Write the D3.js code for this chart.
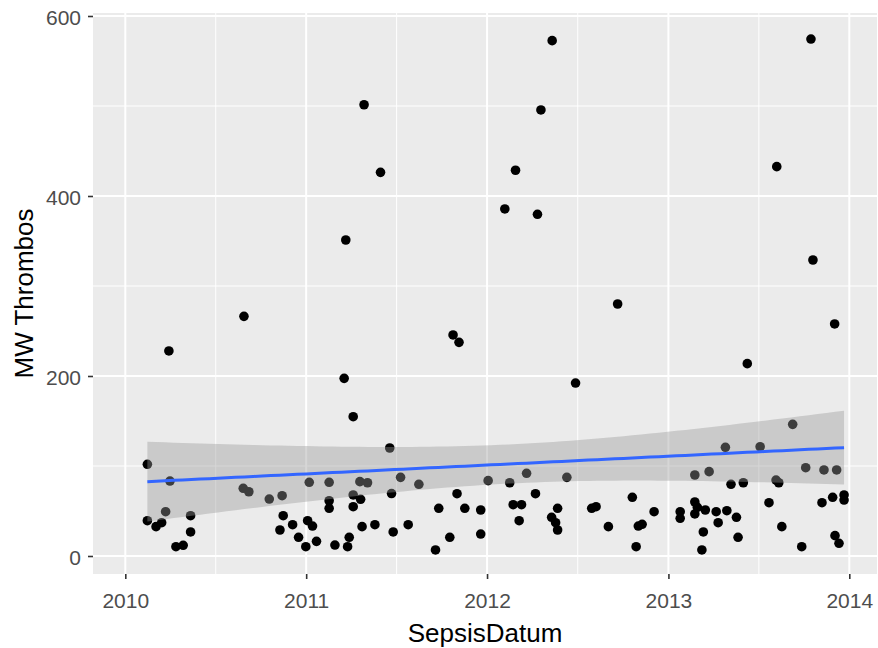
<!DOCTYPE html>
<html>
<head>
<meta charset="utf-8">
<script src="https://cdn.jsdelivr.net/npm/d3@7"></script>
<style>
  body { margin: 0; background: #fff; }
  text { font-family: "Liberation Sans", Arial, sans-serif; }
</style>
</head>
<body>
<div id="viz-container"></div>
<script>
// SepsisDatum as decimal years
let sepsisYear = [
  2010.122, 2010.247, 2010.223, 2010.122, 2010.170, 2010.201, 2010.361, 2010.361, 2010.280, 2010.320,
  2010.652, 2010.683, 2010.796, 2010.867, 2010.873, 2010.855, 2010.925, 2010.958, 2011.008, 2011.035,
  2010.998, 2011.057, 2011.017, 2011.127, 2011.127, 2011.127, 2011.159, 2011.260, 2011.297, 2011.339,
  2011.301, 2011.260, 2011.238, 2011.229, 2011.309, 2011.380, 2011.462, 2011.472, 2011.260, 2011.522,
  2011.623, 2011.481, 2011.564, 2011.733, 2011.834, 2011.877, 2011.965, 2011.965, 2011.794, 2011.715,
  2012.006, 2012.125, 2012.218, 2012.144, 2012.190, 2012.267, 2012.177, 2012.389, 2012.356, 2012.378,
  2012.389, 2012.440, 2012.577, 2012.601, 2012.669, 2012.801, 2012.822, 2012.834, 2012.855, 2012.921,
  2013.065, 2013.065, 2013.146, 2013.225, 2013.315, 2013.146, 2013.160, 2013.146, 2013.204, 2013.193,
  2013.185, 2013.264, 2013.275, 2013.323, 2013.376, 2013.385, 2013.346, 2013.414, 2013.507, 2013.687,
  2013.556, 2013.595, 2013.610, 2013.627, 2013.737, 2013.759, 2013.860, 2013.930, 2013.849, 2013.908,
  2013.971, 2013.971, 2013.921, 2013.943,
  2012.359, 2011.320, 2012.297, 2011.411, 2012.157, 2012.098, 2012.278, 2013.788, 2013.599, 2010.241,
  2010.656, 2011.219, 2011.812, 2011.845, 2011.210, 2012.488, 2012.720, 2013.799, 2013.919, 2013.436
];

let mwThrombos = [
  101.9, 83.3, 49.2, 39.2, 32.6, 37.0, 44.8, 26.7, 10.3, 11.9,
  75.2, 71.4, 63.3, 67.0, 44.8, 28.9, 34.8, 20.8, 39.2, 33.3,
  10.3, 16.3, 81.9, 81.9, 61.4, 53.0, 12.2, 67.8, 82.6, 81.4,
  63.0, 54.8, 20.8, 10.3, 32.6, 34.8, 120.0, 69.4, 154.8, 87.4,
  79.7, 26.7, 34.8, 53.0, 69.2, 53.0, 51.1, 24.4, 20.8, 6.7,
  83.7, 81.4, 91.9, 57.0, 57.0, 69.2, 39.2, 53.0, 43.0, 37.0,
  28.9, 87.4, 53.0, 54.8, 32.6, 65.2, 10.3, 33.3, 35.2, 49.2,
  49.2, 41.9, 90.0, 93.7, 120.8, 60.0, 54.1, 46.7, 51.1, 26.7,
  6.7, 49.2, 37.0, 50.3, 43.0, 20.8, 79.7, 81.4, 121.4, 146.3,
  59.2, 84.4, 81.4, 32.6, 10.3, 98.1, 95.6, 95.6, 59.2, 65.2,
  67.8, 62.2, 22.6, 14.1,
  572.6, 501.4, 495.6, 426.3, 428.6, 385.6, 379.7, 574.4, 432.6, 227.8,
  266.3, 351.1, 245.6, 237.4, 197.4, 192.2, 280.0, 328.9, 257.8, 213.7
];

let xTickYears = [2010, 2011, 2012, 2013, 2014];
let yTicks = [0, 200, 400, 600];
let yMinor = [100, 300, 500];

let width = 878, height = 648;
let panel = {left: 93, right: 877, top: 13, bottom: 574};

function toDate(dy){
  let y = Math.floor(dy);
  let start = Date.UTC(y, 0, 1), end = Date.UTC(y + 1, 0, 1);
  return new Date(start + (dy - y) * (end - start));
}

let data = sepsisYear.map(function(d, i){
  return {date: toDate(d), value: mwThrombos[i]};
});

let x = d3.scaleUtc()
  .domain([new Date(Date.UTC(2010, 0, 1)), new Date(Date.UTC(2014, 0, 1))])
  .range([125.3, 849.3]);
let y = d3.scaleLinear().domain([0, 600]).range([556, 16]);

let viz = d3.select("#viz-container")
  .append("svg")
    .attr("width", width)
    .attr("height", height);

// panel
viz.append("rect")
  .attr("x", panel.left).attr("y", panel.top)
  .attr("width", panel.right - panel.left)
  .attr("height", panel.bottom - panel.top)
  .attr("fill", "#EBEBEB");

let xMajor = xTickYears.map(function(yr){ return new Date(Date.UTC(yr, 0, 1)); });
let xMinor = [];
for (let i = 0; i < xMajor.length - 1; i++) {
  xMinor.push(new Date((+xMajor[i] + +xMajor[i + 1]) / 2));
}

let grid = viz.append("g");
grid.selectAll(".ymin").data(yMinor).enter().append("line")
  .attr("x1", panel.left).attr("x2", panel.right)
  .attr("y1", y).attr("y2", y)
  .attr("stroke", "#fff").attr("stroke-width", 1);
grid.selectAll(".xmin").data(xMinor).enter().append("line")
  .attr("y1", panel.top).attr("y2", panel.bottom)
  .attr("x1", x).attr("x2", x)
  .attr("stroke", "#fff").attr("stroke-width", 1);
grid.selectAll(".ymaj").data(yTicks).enter().append("line")
  .attr("x1", panel.left).attr("x2", panel.right)
  .attr("y1", y).attr("y2", y)
  .attr("stroke", "#fff").attr("stroke-width", 2);
grid.selectAll(".xmaj").data(xMajor).enter().append("line")
  .attr("y1", panel.top).attr("y2", panel.bottom)
  .attr("x1", x).attr("x2", x)
  .attr("stroke", "#fff").attr("stroke-width", 2);

// points
viz.append("g").selectAll("circle").data(data).enter()
  .append("circle")
    .attr("cx", function(d){ return x(d.date); })
    .attr("cy", function(d){ return y(d.value); })
    .attr("r", 4.8)
    .attr("fill", "#000");

// linear fit with 95% band (geom_smooth method = "lm")
let xs = data.map(function(d){ return +d.date / 86400000; });
let ys = data.map(function(d){ return d.value; });
let n = xs.length;
let mx = d3.mean(xs), my = d3.mean(ys);
let sxx = d3.sum(xs, function(v){ return (v - mx) * (v - mx); });
let sxy = d3.sum(xs, function(v, i){ return (v - mx) * (ys[i] - my); });
let slope = sxy / sxx;
let icpt = my - slope * mx;
let sse = d3.sum(xs, function(v, i){ let r = ys[i] - (icpt + slope * v); return r * r; });
let sigma = Math.sqrt(sse / (n - 2));
let tq = 1.9796;
let xmin = d3.min(xs), xmax = d3.max(xs);
let fit = d3.range(80).map(function(k){
  let xv = xmin + (xmax - xmin) * k / 79;
  let yv = icpt + slope * xv;
  let se = sigma * Math.sqrt(1 / n + (xv - mx) * (xv - mx) / sxx);
  return {date: new Date(xv * 86400000), y: yv, lo: yv - tq * se, hi: yv + tq * se};
});

viz.append("path")
  .datum(fit)
  .attr("d", d3.area()
    .x(function(d){ return x(d.date); })
    .y0(function(d){ return y(d.lo); })
    .y1(function(d){ return y(d.hi); }))
  .attr("fill", "#999999")
  .attr("fill-opacity", 0.4);

viz.append("path")
  .datum(fit)
  .attr("d", d3.line()
    .x(function(d){ return x(d.date); })
    .y(function(d){ return y(d.y); }))
  .attr("fill", "none")
  .attr("stroke", "#3366FF")
  .attr("stroke-width", 3);

// axes
let xAxis = viz.append("g")
  .attr("transform", "translate(0," + panel.bottom + ")")
  .call(d3.axisBottom(x).tickValues(xMajor).tickSize(5).tickPadding(4)
    .tickFormat(d3.utcFormat("%Y")));
let yAxis = viz.append("g")
  .attr("transform", "translate(" + panel.left + ",0)")
  .call(d3.axisLeft(y).tickValues(yTicks).tickSize(5).tickPadding(7));

[xAxis, yAxis].forEach(function(ax){
  ax.select(".domain").remove();
  ax.selectAll(".tick line").attr("stroke", "#333333").attr("stroke-width", 1.6);
  ax.selectAll(".tick text")
    .attr("fill", "#4D4D4D")
    .style("font-size", "21px")
    .style("font-family", "'Liberation Sans', Arial, sans-serif");
});
xAxis.selectAll(".tick text").attr("dy", null).attr("y", 34);
yAxis.selectAll(".tick text").attr("dy", "0.42em");

viz.append("text")
  .attr("x", (panel.left + panel.right) / 2)
  .attr("y", 642)
  .attr("text-anchor", "middle")
  .style("font-size", "26px")
  .attr("fill", "#000")
  .text("SepsisDatum");

viz.append("text")
  .attr("transform", "translate(33," + ((panel.top + panel.bottom) / 2) + ") rotate(-90)")
  .attr("text-anchor", "middle")
  .style("font-size", "26px")
  .attr("fill", "#000")
  .text("MW Thrombos");
</script>
</body>
</html>
